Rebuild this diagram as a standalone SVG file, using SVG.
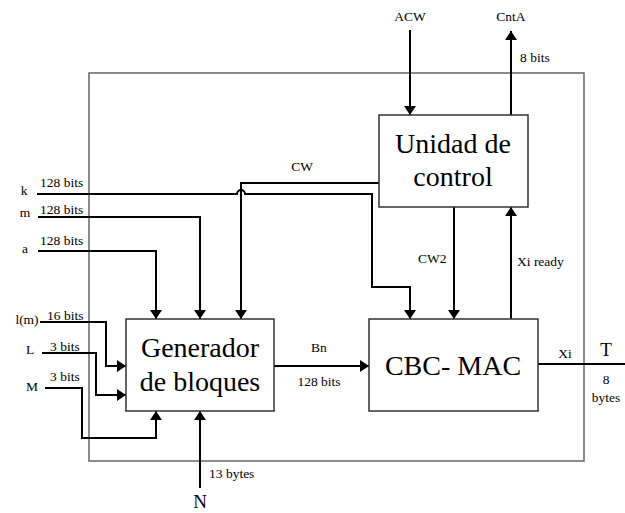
<svg xmlns="http://www.w3.org/2000/svg" width="625" height="513" viewBox="0 0 625 513">
<defs>
<marker id="arr" markerUnits="userSpaceOnUse" markerWidth="10" markerHeight="12" refX="9" refY="6" orient="auto">
<path d="M0,0 L9,6 L0,12 z" fill="#000"/>
</marker>
<style>
.t{font-family:"Liberation Serif","Times New Roman",serif;font-size:13.5px;fill:#000}
.big{font-family:"Liberation Serif","Times New Roman",serif;font-size:28px;fill:#000}
.mid{font-family:"Liberation Serif","Times New Roman",serif;font-size:19px;fill:#000}
.box{fill:#fff;stroke:#333;stroke-width:1.5}
.w{fill:none;stroke:#000;stroke-width:2}
.wa{fill:none;stroke:#000;stroke-width:2;marker-end:url(#arr)}
</style>
</defs>
<rect width="625" height="513" fill="#fff"/>
<rect id="outer" x="89" y="73" width="495" height="388" fill="none" stroke="#666" stroke-width="1.5"/>
<g id="connectors">
<path class="wa" d="M410,30 V115"/>
<path class="wa" d="M511,115 V31"/>
<path class="wa" d="M379,183 H241 V319"/>
<path class="wa" d="M37,194 H237 A4,4 0 0 1 245,194 H372 V287 H410 V319"/>
<path class="wa" d="M38,217 H200 V319"/>
<path class="wa" d="M38,251 H156 V319"/>
<path class="wa" d="M40,322 H106 V366 H126"/>
<path class="wa" d="M42,353 H96 V395 H126"/>
<path class="wa" d="M45,388 H82 V438 H156 V411"/>
<path class="wa" d="M200,488 V411"/>
<path class="wa" d="M274,366 H369"/>
<path class="wa" d="M454,207 V319"/>
<path class="wa" d="M511,319 V207"/>
<path class="w" d="M538,364 H625"/>
</g>
<g id="generador">
<rect class="box" x="126" y="319" width="148" height="92"/>
<text class="big" x="200" y="357" text-anchor="middle">Generador</text>
<text class="big" x="200" y="391" text-anchor="middle">de bloques</text>
</g>
<g id="control">
<rect class="box" x="379" y="115" width="149" height="92"/>
<text class="big" x="453" y="153" text-anchor="middle">Unidad de</text>
<text class="big" x="453" y="186" text-anchor="middle">control</text>
</g>
<g id="cbcmac">
<rect class="box" x="369" y="319" width="169" height="92"/>
<text class="big" x="453" y="375" text-anchor="middle">CBC- MAC</text>
</g>
<g id="labels">
<text class="t" x="410" y="21" text-anchor="middle">ACW</text>
<text class="t" x="511" y="21" text-anchor="middle">CntA</text>
<text class="t" x="520" y="62">8 bits</text>
<text class="t" x="302" y="171" text-anchor="middle">CW</text>
<text class="t" x="418" y="263">CW2</text>
<text class="t" x="517" y="266">Xi ready</text>
<text class="t" x="24" y="195" text-anchor="middle">k</text>
<text class="t" x="40" y="187">128 bits</text>
<text class="t" x="25" y="217" text-anchor="middle">m</text>
<text class="t" x="40" y="214">128 bits</text>
<text class="t" x="25" y="253" text-anchor="middle">a</text>
<text class="t" x="40" y="245">128 bits</text>
<text class="t" x="27" y="324" text-anchor="middle">l(m)</text>
<text class="t" x="47" y="320">16 bits</text>
<text class="t" x="30" y="354" text-anchor="middle">L</text>
<text class="t" x="50" y="351">3 bits</text>
<text class="t" x="32" y="391" text-anchor="middle">M</text>
<text class="t" x="50" y="381">3 bits</text>
<text class="t" x="319" y="352" text-anchor="middle">Bn</text>
<text class="t" x="319" y="386" text-anchor="middle">128 bits</text>
<text class="t" x="209" y="478">13 bytes</text>
<text class="mid" x="200" y="508" text-anchor="middle">N</text>
<text class="t" x="565" y="358" text-anchor="middle">Xi</text>
<text class="mid" x="606" y="356" text-anchor="middle">T</text>
<text class="t" x="606" y="384" text-anchor="middle">8</text>
<text class="t" x="606" y="402" text-anchor="middle">bytes</text>
</g>
</svg>
